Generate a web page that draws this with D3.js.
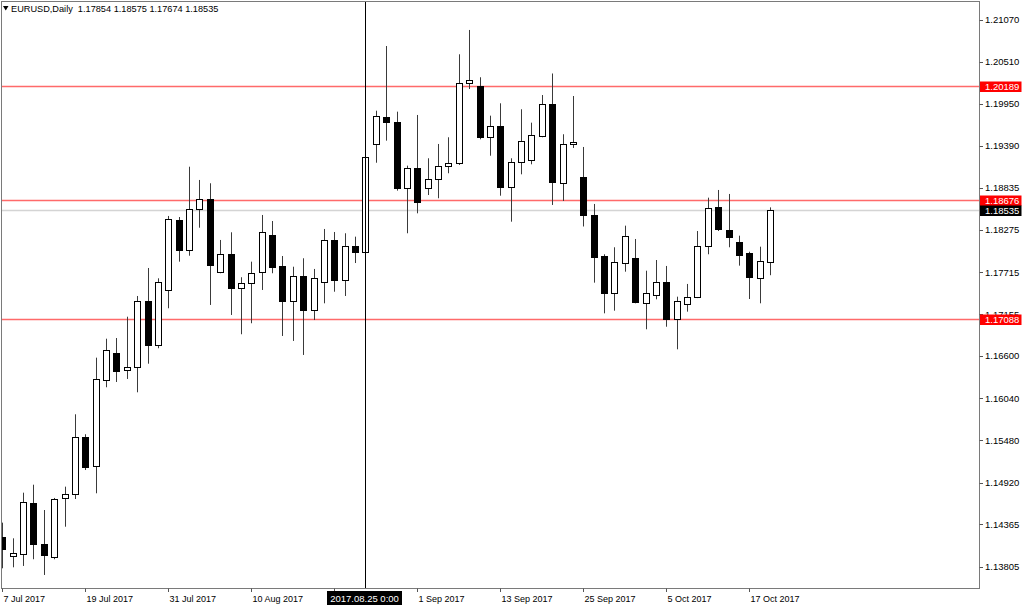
<!DOCTYPE html>
<html>
<head>
<meta charset="utf-8">
<script src="https://cdn.jsdelivr.net/npm/d3@7"></script>
<style>
  html, body { margin: 0; padding: 0; background: #fff; }
  svg { display: block; }
  text { font-family: "Liberation Sans", Arial, sans-serif; }
</style>
</head>
<body>
<svg id="chart" width="1024" height="607"></svg>
<script>
// ---------------- data ----------------
const symbol = "EURUSD,Daily";
const firstDay = "2017-07-07", lastDay = "2017-10-19";
const openP = [1.14202,1.13949,1.13968,1.14649,1.14105,1.13936,1.14712,1.14765,1.15530,1.15137,
  1.16283,1.16637,1.16411,1.16455,1.17332,1.16743,1.17478,1.18407,1.18009,1.18550,
  1.18686,1.17721,1.17952,1.17508,1.17567,1.17713,1.18208,1.17793,1.17336,1.17664,
  1.17212,1.17580,1.18138,1.17611,1.18062,1.17978,1.19417,1.19779,1.19713,1.18828,
  1.19094,1.18828,1.18952,1.19129,1.19160,1.20223,1.20191,1.19514,1.19656,1.18850,
  1.19174,1.19204,1.19527,1.19944,1.18903,1.19417,1.18972,1.18478,1.17925,1.17442,
  1.17832,1.17899,1.17309,1.17411,1.17588,1.17093,1.17292,1.17381,1.18066,1.18580,
  1.18275,1.18111,1.17965,1.17641,1.17854];
const highP = [1.14388,1.14180,1.14786,1.14892,1.14556,1.14716,1.14866,1.15827,1.15562,1.16579,
  1.16831,1.16840,1.17123,1.17398,1.17770,1.17633,1.18461,1.18447,1.19115,1.18939,
  1.18895,1.18142,1.18244,1.17647,1.17854,1.18474,1.18394,1.17929,1.17787,1.17899,
  1.17757,1.18288,1.18248,1.18231,1.18186,1.19423,1.19859,1.20718,1.19846,1.19129,
  1.19802,1.19227,1.19417,1.19506,1.20608,1.20931,1.20303,1.19793,1.19957,1.19227,
  1.19878,1.19700,1.20067,1.20353,1.19546,1.20054,1.19377,1.18620,1.17952,1.18045,
  1.18332,1.18155,1.17734,1.17876,1.17797,1.17389,1.17558,1.18261,1.18704,1.18806,
  1.18753,1.18199,1.17986,1.18053,1.18575];
const lowP = [1.13782,1.13795,1.13813,1.13902,1.13693,1.13902,1.14334,1.14702,1.15087,1.14778,
  1.16186,1.16256,1.16296,1.16119,1.16499,1.16704,1.17235,1.17854,1.17933,1.18305,
  1.17279,1.17700,1.17146,1.16890,1.17036,1.17478,1.17700,1.16867,1.16801,1.16615,
  1.17079,1.17301,1.17455,1.17398,1.17836,1.17810,1.19168,1.19461,1.18797,1.18231,
  1.18496,1.18739,1.18696,1.19028,1.19138,1.20147,1.19479,1.19261,1.18730,1.18385,
  1.19014,1.19147,1.19506,1.18607,1.18660,1.19364,1.18321,1.17575,1.17168,1.17203,
  1.17721,1.17301,1.16956,1.17354,1.16990,1.16690,1.17190,1.17370,1.17952,1.18261,
  1.18045,1.17801,1.17358,1.17301,1.17674];
const closeP = [1.14034,1.13981,1.14659,1.14101,1.13955,1.14702,1.14765,1.15530,1.15131,1.16296,
  1.16681,1.16406,1.16455,1.17332,1.16743,1.17588,1.18421,1.18009,1.18550,1.18686,
  1.17810,1.17952,1.17508,1.17575,1.17708,1.18252,1.17787,1.17336,1.17664,1.17212,
  1.17633,1.18138,1.17611,1.18062,1.17982,1.19248,1.19789,1.19713,1.18828,1.19094,
  1.18650,1.18948,1.19129,1.19160,1.20223,1.20267,1.19514,1.19660,1.18842,1.19182,
  1.19457,1.19536,1.19948,1.18908,1.19413,1.19447,1.18474,1.17920,1.17434,1.17854,
  1.18199,1.17315,1.17434,1.17580,1.17093,1.17332,1.17389,1.18062,1.18571,1.18288,
  1.18186,1.17943,1.17654,1.17860,1.18535];
const priceTicks = [1.21070,1.20510,1.19950,1.19390,1.18835,1.18275,1.17715,1.17155,
  1.16600,1.16040,1.15480,1.14920,1.14365,1.13805];
const dateTicks = ["7 Jul 2017","19 Jul 2017","31 Jul 2017","10 Aug 2017","22 Aug 2017",
  "1 Sep 2017","13 Sep 2017","25 Sep 2017","5 Oct 2017","17 Oct 2017"];
const hiddenDateLabels = ["22 Aug 2017"]; // covered by the crosshair date box
const levelLines = [1.20189, 1.18676, 1.17088];
const bidPrice = 1.18535;
const crosshairDate = "2017.08.25 0:00";
const crosshairIndex = "2017-08-25";

// ---------------- build ----------------
const parse = d3.utcParse("%Y-%m-%d");
const parseTick = d3.utcParse("%-d %b %Y");
const fmtKey = d3.utcFormat("%Y-%m-%d");
const days = d3.utcDay.range(parse(firstDay), d3.utcDay.offset(parse(lastDay), 1))
  .filter(d => d.getUTCDay() !== 0 && d.getUTCDay() !== 6);
const dates = days.map(fmtKey);
const bars = dates.map((d, i) => ({date: d, o: openP[i], h: highP[i], l: lowP[i], c: closeP[i]}));

const svg = d3.select("#chart");
const plot = {left: 1.5, top: 1.5, right: 979.5, bottom: 588.5};

const x = d3.scalePoint().domain(dates).range([2.3, 770.05]);
const y = d3.scaleLinear().domain([1.21070, 1.13805]).range([19.5, 566.55]);
const fmtP = d3.format(".5f");

svg.append("defs").append("clipPath").attr("id", "clip")
  .append("rect").attr("x", plot.left + 0.5).attr("y", plot.top + 0.5)
  .attr("width", plot.right - plot.left - 1).attr("height", plot.bottom - plot.top - 1);

const g = svg.append("g").attr("clip-path", "url(#clip)");

// bid line
g.append("line")
  .attr("x1", plot.left).attr("x2", plot.right)
  .attr("y1", Math.round(y(bidPrice)) + 0.5).attr("y2", Math.round(y(bidPrice)) + 0.5)
  .attr("stroke", "#d4d4d4").attr("stroke-width", 1.5);

// level lines
g.selectAll("line.level").data(levelLines).join("line").attr("class", "level")
  .attr("x1", plot.left).attr("x2", plot.right)
  .attr("y1", d => Math.round(y(d)) + 0.5).attr("y2", d => Math.round(y(d)) + 0.5)
  .attr("stroke", "#ff6a6a").attr("stroke-width", 1.5);

// candles
const cg = g.selectAll("g.bar").data(bars).join("g").attr("class", "bar");
cg.append("line")
  .attr("x1", d => Math.round(x(d.date)) + 0.5).attr("x2", d => Math.round(x(d.date)) + 0.5)
  .attr("y1", d => y(d.h)).attr("y2", d => y(d.l))
  .attr("stroke", "#3a3a3a").attr("stroke-width", 1);
cg.append("rect")
  .attr("x", d => Math.round(x(d.date)) - 2.5)
  .attr("width", 6)
  .attr("y", d => Math.round(y(Math.max(d.o, d.c))) + 0.5)
  .attr("height", d => Math.max(1, Math.round(y(Math.min(d.o, d.c))) - Math.round(y(Math.max(d.o, d.c)))))
  .attr("fill", d => d.c >= d.o ? "#ffffff" : "#000000")
  .attr("stroke", "#000").attr("stroke-width", 1);

// crosshair vertical line
const chX = Math.round(x(crosshairIndex)) + 0.5;
svg.append("line").attr("x1", chX).attr("x2", chX)
  .attr("y1", plot.top).attr("y2", plot.bottom)
  .attr("stroke", "#000").attr("stroke-width", 1);

// frame
svg.append("rect").attr("x", plot.left).attr("y", plot.top)
  .attr("width", plot.right - plot.left).attr("height", plot.bottom - plot.top)
  .attr("fill", "none").attr("stroke", "#7a7a7a").attr("stroke-width", 1);

// price axis
const pa = svg.append("g");
pa.selectAll("line").data(priceTicks).join("line")
  .attr("x1", plot.right).attr("x2", plot.right + 3.5)
  .attr("y1", d => Math.round(y(d)) + 0.5).attr("y2", d => Math.round(y(d)) + 0.5)
  .attr("stroke", "#555");
pa.selectAll("text").data(priceTicks).join("text")
  .attr("x", 985).attr("y", d => y(d) + 3.4)
  .attr("font-size", "9.5px").attr("fill", "#000")
  .text(d => fmtP(d));

// level labels
const lbls = levelLines.map(v => ({v, bg: "#ff0000"})).concat([{v: bidPrice, bg: "#000000"}]);
const lg = svg.append("g").selectAll("g").data(lbls).join("g");
lg.append("rect").attr("x", plot.right + 0.5).attr("y", d => Math.round(y(d.v)) - 4.5)
  .attr("width", 41.5).attr("height", 10.5).attr("fill", d => d.bg);
lg.append("text").attr("x", 985).attr("y", d => Math.round(y(d.v)) + 4)
  .attr("font-size", "9.5px").attr("fill", "#fff").text(d => fmtP(d.v));

// date axis
const tickKeys = dateTicks.map(s => ({label: s, key: fmtKey(parseTick(s))}));
const da = svg.append("g");
da.selectAll("line").data(tickKeys).join("line")
  .attr("x1", d => Math.round(x(d.key)) + 0.5).attr("x2", d => Math.round(x(d.key)) + 0.5)
  .attr("y1", plot.bottom).attr("y2", plot.bottom + 3.5)
  .attr("stroke", "#555");
da.selectAll("text").data(tickKeys.filter(d => !hiddenDateLabels.includes(d.label))).join("text")
  .attr("x", d => Math.round(x(d.key)) + 1.5).attr("y", 602)
  .attr("font-size", "9px").attr("fill", "#000")
  .text(d => d.label);

// crosshair date label
svg.append("rect").attr("x", chX - 38.5).attr("y", 591).attr("width", 75).attr("height", 14)
  .attr("fill", "#000");
svg.append("text").attr("x", chX - 1).attr("y", 602).attr("text-anchor", "middle")
  .attr("font-size", "9.5px").attr("fill", "#fff").text(crosshairDate);

// header
svg.append("path").attr("d", "M3,6 L8.5,6 L5.75,10.5 Z").attr("fill", "#000");
const last = bars[bars.length - 1];
svg.append("text").attr("x", 11).attr("y", 12).attr("font-size", "9.2px").attr("fill", "#000")
  .attr("xml:space", "preserve")
  .text(`${symbol}  ${fmtP(last.o)} ${fmtP(last.h)} ${fmtP(last.l)} ${fmtP(last.c)}`);
</script>
</body>
</html>
